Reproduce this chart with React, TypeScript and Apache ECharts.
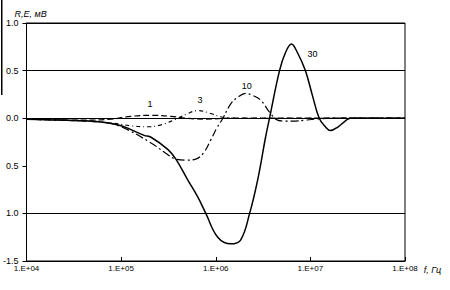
import React, { useEffect, useRef } from "react";
import * as echarts from "echarts";

// Curve "1" (dashed)
const f1 = [1e4, 3.79e4, 7.85e4, 1.27e5, 2.07e5, 3.36e5, 4.83e5, 7.85e5, 1.44e6, 1e8];
const v1 = [-0.01, -0.02, -0.01, 0.02, 0.03, 0.02, 0.0, -0.01, 0, 0];

// Curve "3" (dash-dot)
const f3 = [1e4, 3.79e4, 7.85e4, 1.27e5, 1.92e5, 2.64e5, 3.98e5, 5.07e5, 6.47e5, 8.85e5, 1.19e6, 1.83e6, 1e8];
const v3 = [-0.01, -0.03, -0.05, -0.08, -0.09, -0.07, 0.0, 0.05, 0.08, 0.05, 0.01, 0, 0];

// Curve "10" (long dash-dot)
const f10 = [1e4, 2.33e4, 6.15e4, 1e5, 2.07e5, 2.98e5, 3.79e5, 4.83e5, 6.15e5, 7.48e5, 8.85e5, 1.03e6, 1.19e6,
  1.44e6, 1.71e6, 2.07e6, 2.45e6, 2.98e6, 3.79e6, 4.5e6, 5.46e6, 6.95e6, 8.85e6, 1.13e7, 1.63e7, 1e8];
const v10 = [-0.01, -0.02, -0.04, -0.09, -0.26, -0.37, -0.43, -0.44, -0.43, -0.36, -0.23, -0.1, 0.0,
  0.15, 0.22, 0.26, 0.24, 0.19, 0.05, -0.02, -0.03, -0.03, -0.02, -0.01, 0, 0];

// Curve "30" (solid)
const f30 = [1e4, 2.33e4, 6.15e4, 1e5, 1.75e5, 2.07e5, 3.13e5, 3.79e5, 5.07e5, 6.47e5, 7.85e5, 1.05e6, 1.44e6,
  1.83e6, 2.28e6, 2.77e6, 3.36e6, 3.7e6, 4.72e6, 5.46e6, 6.31e6, 7.29e6, 8.85e6, 1.05e7, 1.24e7, 1.44e7,
  1.63e7, 1.97e7, 2.33e7, 2.64e7, 1e8];
const v30 = [-0.01, -0.02, -0.04, -0.08, -0.18, -0.2, -0.33, -0.43, -0.65, -0.83, -1.0, -1.25, -1.32,
  -1.28, -1.0, -0.65, -0.2, 0.0, 0.5, 0.69, 0.78, 0.69, 0.5, 0.24, 0.0, -0.09,
  -0.13, -0.09, -0.03, 0, 0];

// Curve labels: [frequency, value, text]
const curveLabels: [number, number, string][] = [
  [2.02e5, 0.15, "1"],
  [6.8e5, 0.19, "3"],
  [2.12e6, 0.34, "10"],
  [1.05e7, 0.67, "30"],
];

const yTickLabels: Record<string, string> = {
  "1": "1.0",
  "0.5": "0.5",
  "0": "0.0",
  "-0.5": "0.5",
  "-1": "1.0",
  "-1.5": "-1.5",
};

const xTickLabels: Record<string, string> = {
  "10000": "1.E+04",
  "100000": "1.E+05",
  "1000000": "1.E+06",
  "10000000": "1.E+07",
  "100000000": "1.E+08",
};

const zip = (f: number[], v: number[]) => f.map((x, i) => [x, v[i]]);

export default function App() {
  const ref = useRef<HTMLDivElement>(null);
  useEffect(() => {
    if (!ref.current) return;
    const chart = echarts.init(ref.current, undefined, { renderer: "svg" });
    const font = "Liberation Sans, Arial, sans-serif";
    chart.setOption({
      animation: false,
      backgroundColor: "#fff",
      grid: {
        left: 25,
        right: 45,
        top: 23,
        bottom: 29,
        show: true,
        borderColor: "#000",
        borderWidth: 1,
        backgroundColor: "transparent",
      },
      xAxis: {
        type: "log",
        logBase: 10,
        min: 1e4,
        max: 1e8,
        name: "f, Гц",
        nameLocation: "end",
        nameGap: 14,
        nameTextStyle: { color: "#000", fontSize: 9, fontFamily: font, fontStyle: "italic", verticalAlign: "top", padding: [4, 0, 0, 0] },
        axisLine: { show: true, onZero: false, lineStyle: { color: "#000", width: 1 } },
        axisTick: { show: true, inside: true, length: 4, lineStyle: { color: "#000" } },
        minorTick: { show: false },
        splitLine: { show: false },
        axisLabel: {
          color: "#000",
          fontSize: 8,
          fontFamily: font,
          margin: 3,
          formatter: (v: number) => xTickLabels[String(Math.round(v))] ?? "",
        },
      },
      yAxis: {
        type: "value",
        min: -1.5,
        max: 1.0,
        interval: 0.5,
        name: "R,E, мВ",
        nameLocation: "end",
        nameGap: 4,
        nameTextStyle: { color: "#000", fontSize: 9, fontFamily: font, fontStyle: "italic", align: "left", padding: [0, 0, 0, -12] },
        axisLine: { show: true, onZero: false, lineStyle: { color: "#000", width: 1 } },
        axisTick: { show: true, inside: false, length: 4, lineStyle: { color: "#000" } },
        splitLine: {
          show: true,
          lineStyle: { color: ["transparent", "#000", "transparent", "#000", "#000", "#000"], width: 1 },
        },
        axisLabel: {
          color: "#000",
          fontSize: 9,
          fontFamily: font,
          margin: 8,
          formatter: (v: number) => yTickLabels[String(Math.round(v * 10) / 10)] ?? "",
        },
      },
      series: [
        {
          type: "line",
          data: zip(f1, v1),
          smooth: 0.4,
          showSymbol: false,
          lineStyle: { color: "#000", width: 1.2, type: [6, 3] },
        },
        {
          type: "line",
          data: zip(f3, v3),
          smooth: 0.4,
          showSymbol: false,
          lineStyle: { color: "#000", width: 1.1, type: [4, 3, 1, 3] },
        },
        {
          type: "line",
          data: zip(f10, v10),
          smooth: 0.4,
          showSymbol: false,
          lineStyle: { color: "#000", width: 1.2, type: [8, 3, 2, 3] },
        },
        {
          type: "line",
          data: zip(f30, v30),
          smooth: 0.4,
          showSymbol: false,
          lineStyle: { color: "#000", width: 1.5, type: "solid" },
          markPoint: {
            symbol: "circle",
            symbolSize: 0,
            silent: true,
            label: {
              show: true,
              position: "inside",
              color: "#000",
              fontSize: 9,
              fontFamily: font,
              formatter: (p: any) => p.name,
            },
            data: curveLabels.map(([f, v, t]) => ({ coord: [f, v], name: t, value: t })),
          },
        },
      ],
      graphic: [
        {
          type: "rect",
          shape: { x: 1, y: 0, width: 1.5, height: 95 },
          style: { fill: "#000" },
          silent: true,
        },
      ],
    });
    return () => chart.dispose();
  }, []);
  return (
    <div
      ref={ref}
      style={{ position: "fixed", left: 0, top: 0, width: 450, height: 290, background: "#fff" }}
    />
  );
}
